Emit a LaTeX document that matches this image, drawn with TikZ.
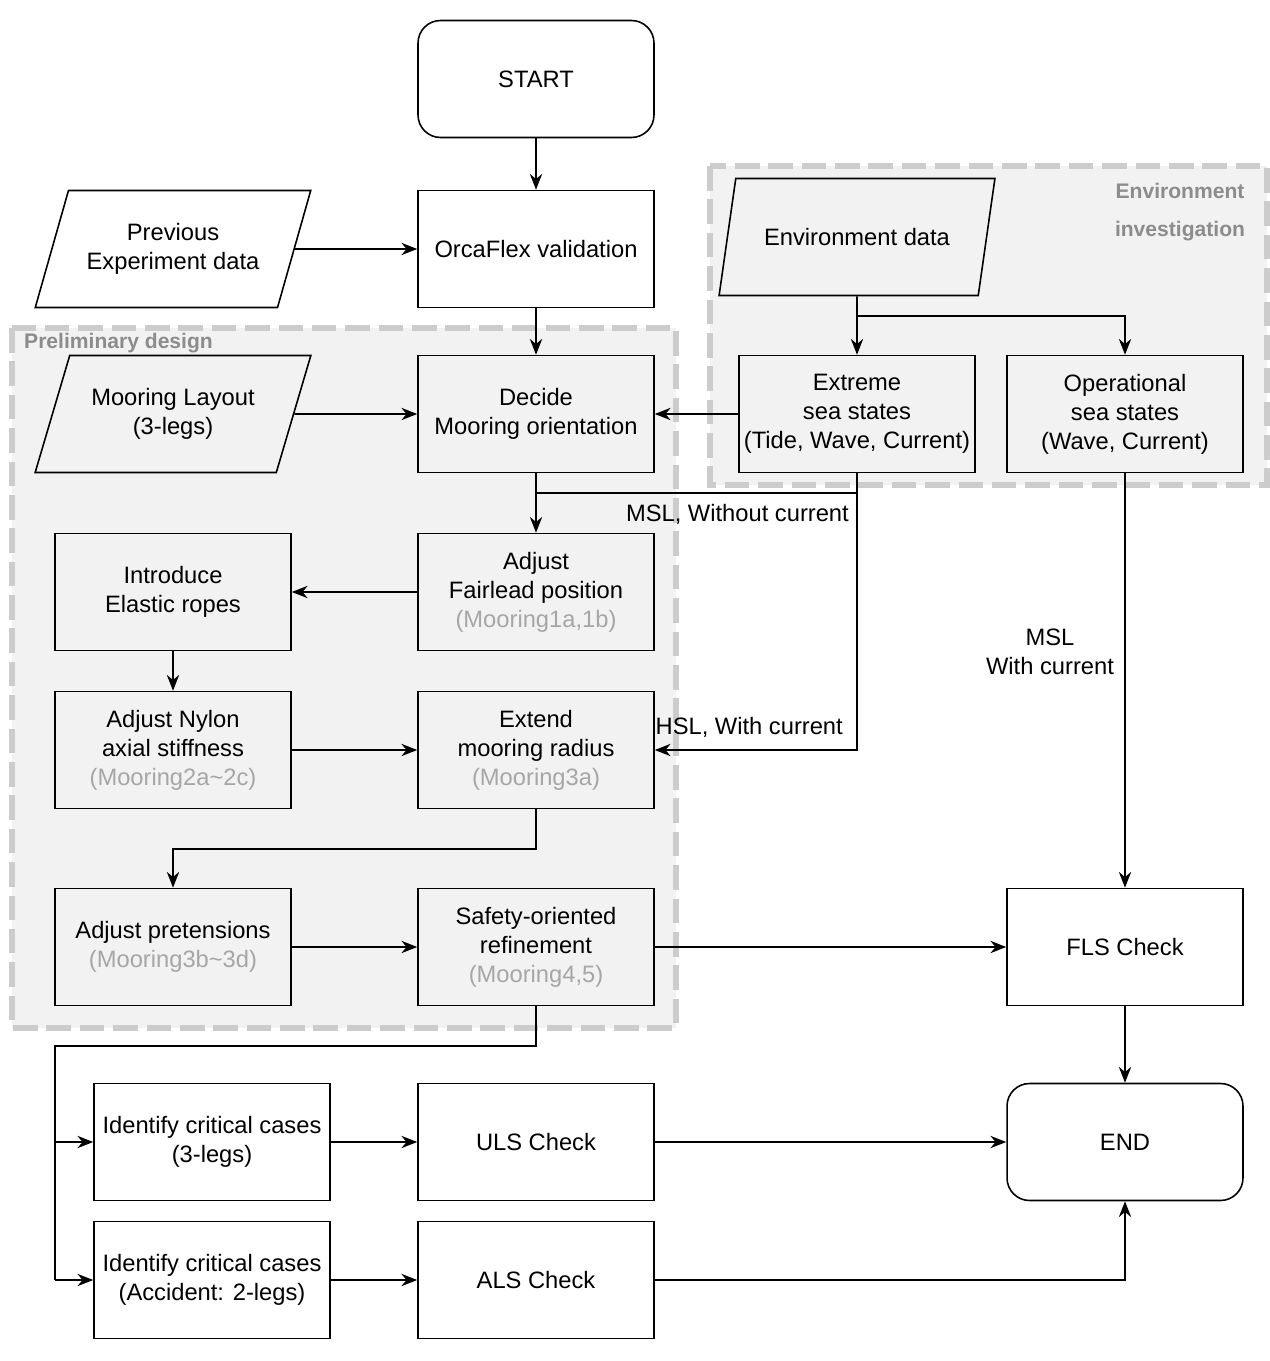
\documentclass[tikz,border=0pt]{standalone}
\usepackage{fontspec}
\setmainfont{Liberation Sans}
\usetikzlibrary{shapes.geometric,arrows.meta}
\tikzset{
	box/.style={rectangle,draw=black,line width=0.9pt,minimum width=4.72cm,minimum height=2.34cm,inner sep=2pt,align=center,font=\fontsize{13.5}{16.5}\selectfont},
	rbox/.style={box,rounded corners=0.45cm},
	data/.style={trapezium,trapezium left angle=65,trapezium right angle=115,trapezium stretches=true,draw=black,line width=0.9pt,minimum width=5.52cm,minimum height=2.34cm,align=center,font=\fontsize{13.5}{16.5}\selectfont},
	group/.style={draw=black!20,fill=black!5,dashed,dash pattern=on 14pt off 5pt,line width=3pt},
	grouplabel/.style={font=\fontsize{12}{22}\selectfont\bfseries,text=black!45,align=center},
	arr/.style={-{Stealth[length=9pt,width=7pt]},line width=0.9pt},
	ln/.style={line width=0.9pt},
	lbl/.style={font=\fontsize{13.5}{16.5}\selectfont,align=center},
}
\newcommand{\note}[1]{\textcolor{black!35}{#1}}
\begin{document}
\begin{tikzpicture}[x=0.02cm,y=-0.02cm]
		\useasboundingbox (0,0) rectangle (1269,1361);
		% groups
		\draw[group] (710,166) rectangle (1267,485);
		\draw[group] (12,328) rectangle (676,1028);
		\node[grouplabel] (envlbl) at (1180,212) {Environment\\investigation};
		\node[grouplabel,anchor=west] (prelbl) at (18,343) {Preliminary design};
		% nodes
		\node[rbox] (start) at (536,79) {START};
		\node[box] (orca) at (536,249) {OrcaFlex validation};
		\node[data] (prev) at (173,249) {Previous\\Experiment data};
		\node[data] (env) at (857,237) {Environment data};
		\node[box] (ext) at (857,414) {Extreme\\sea states\\(Tide, Wave, Current)};
		\node[box] (oper) at (1125,414) {Operational\\sea states\\(Wave, Current)};
		\node[data] (layout) at (173,414) {Mooring Layout\\(3-legs)};
		\node[box] (decide) at (536,414) {Decide\\Mooring orientation};
		\node[box] (fair) at (536,592) {Adjust\\Fairlead position\\\note{(Mooring1a,1b)}};
		\node[box] (intro) at (173,592) {Introduce\\Elastic ropes};
		\node[box] (nylon) at (173,750) {Adjust Nylon\\axial stiffness\\\note{(Mooring2a\textasciitilde2c)}};
		\node[box] (extend) at (536,750) {Extend\\mooring radius\\\note{(Mooring3a)}};
		\node[box] (pret) at (173,947) {Adjust pretensions\\\note{(Mooring3b\textasciitilde3d)}};
		\node[box] (safe) at (536,947) {Safety-oriented\\refinement\\\note{(Mooring4,5)}};
		\node[box] (fls) at (1125,947) {FLS Check};
		\node[box] (id1) at (212,1142) {Identify critical cases\\(3-legs)};
		\node[box] (uls) at (536,1142) {ULS Check};
		\node[rbox] (end) at (1125,1142) {END};
		\node[box] (id2) at (212,1280) {Identify critical cases\\(Accident: 2-legs)};
		\node[box] (als) at (536,1280) {ALS Check};
		% connectors
		\draw[arr] (start) -- (orca);
		\draw[arr] (prev) -- (orca);
		\draw[arr] (orca) -- (decide);
		\draw[arr] (layout) -- (decide);
		\draw[arr] (ext) -- (decide);
		\draw[ln] (env.south) -- (857,316);
		\draw[arr] (857,316) -- (ext);
		\draw[arr] (857,316) -| (oper);
		\draw[arr] (decide) -- (fair);
		\draw[ln] (536,493) -- (857,493);
		\draw[arr] (ext.south) |- (extend.east);
		\node[lbl,anchor=north east] (msl1) at (855,498) {MSL, Without current};
		\node[lbl,anchor=south east] (hsl) at (849,744) {HSL, With current};
		\draw[arr] (fair) -- (intro);
		\draw[arr] (intro) -- (nylon);
		\draw[arr] (nylon) -- (extend);
		\draw[arr] (extend.south) -- (536,849) -| (pret.north);
		\draw[arr] (pret) -- (safe);
		\draw[arr] (safe) -- (fls);
		\draw[arr] (oper) -- (fls);
		\node[lbl] (msl2) at (1050,652) {MSL\\With current};
		\draw[arr] (fls) -- (end);
		\draw[ln] (safe.south) -- (536,1046) -- (55,1046) -- (55,1280);
		\draw[arr] (55,1142) -- (id1);
		\draw[arr] (55,1280) -- (id2);
		\draw[arr] (id1) -- (uls);
		\draw[arr] (uls) -- (end);
		\draw[arr] (id2) -- (als);
		\draw[arr] (als) -| (end.south);
	\end{tikzpicture}
\end{document}
